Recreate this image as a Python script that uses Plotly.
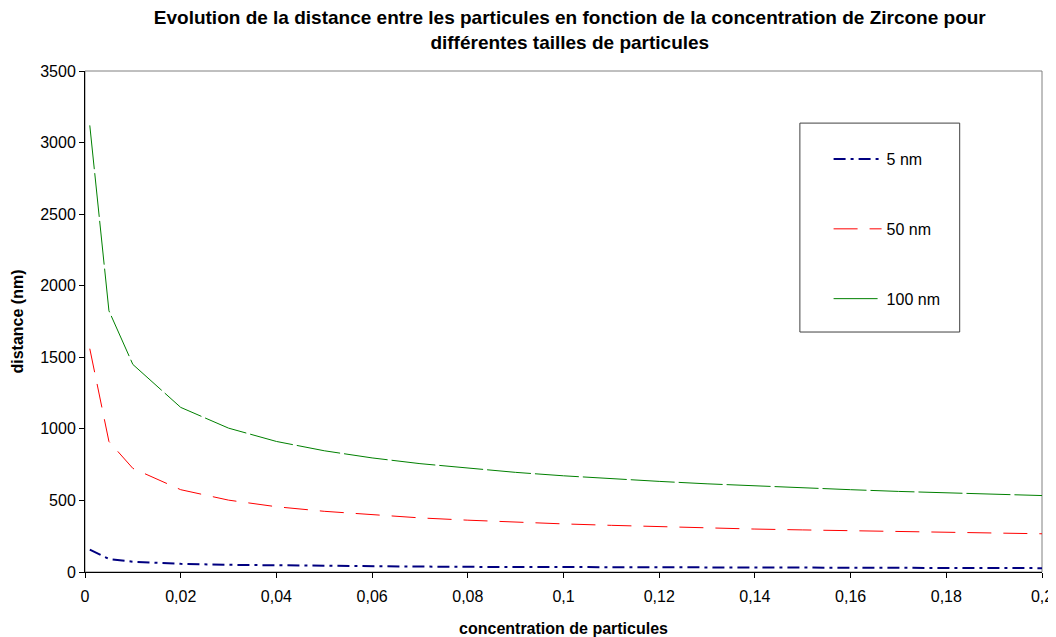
import plotly.graph_objects as go

concentration = [0.001, 0.005, 0.01, 0.02, 0.03, 0.04, 0.05, 0.06, 0.07, 0.08, 0.09, 0.10,
                 0.11, 0.12, 0.13, 0.14, 0.15, 0.16, 0.17, 0.18, 0.19, 0.20]
d_5nm = [156, 91, 72, 57, 50, 46, 42, 40, 38, 36, 35, 34, 33, 32, 31, 30, 29, 29, 28, 28, 27, 27]
d_50nm = [1560, 912, 724, 575, 502, 456, 424, 399, 378, 362, 348, 336, 326, 316, 308, 300,
          294, 288, 282, 276, 272, 267]
d_100nm = [3120, 1825, 1450, 1150, 1005, 912, 847, 797, 757, 724, 696, 672, 651, 633, 616,
           601, 587, 575, 563, 553, 543, 534]

series_names = ["5 nm", "50 nm", "100 nm"]
x_ticks = [0, 0.02, 0.04, 0.06, 0.08, 0.1, 0.12, 0.14, 0.16, 0.18, 0.2]
y_ticks = [0, 500, 1000, 1500, 2000, 2500, 3000, 3500]

FONT = "Liberation Sans, Arial, sans-serif"

fig = go.Figure()
fig.add_trace(go.Scatter(x=concentration, y=d_5nm, mode="lines", name=series_names[0],
                         legendgroup="a",
                         line=dict(color="#000080", width=2, dash="12px,5px,3px,5px")))
fig.add_trace(go.Scatter(x=concentration, y=d_50nm, mode="lines", name=series_names[1],
                         legendgroup="b",
                         line=dict(color="#FF0000", width=1, dash="24px,12px")))
fig.add_trace(go.Scatter(x=concentration, y=d_100nm, mode="lines", name=series_names[2],
                         legendgroup="c",
                         line=dict(color="#008000", width=1, dash="44px,4px")))

fig.update_layout(
    width=1056, height=637,
    margin=dict(l=77, r=22, t=63, b=73, autoexpand=False),
    paper_bgcolor="white", plot_bgcolor="white",
    separators=", ",
    font=dict(family=FONT, size=16, color="black"),
    title=dict(text="Evolution de la distance entre les particules en fonction de la concentration de Zircone pour<br>différentes tailles de particules",
               x=0.532, xanchor="center", y=0.975, yanchor="top",
               font=dict(family=FONT, size=19, color="black", weight="bold")),
    xaxis=dict(range=[0, 0.2], tickvals=x_ticks, showgrid=False, zeroline=False,
               showline=True, linecolor="black", linewidth=1,
               ticks="outside", ticklen=5, tickcolor="black", ticklabelstandoff=5,
               tickfont=dict(family=FONT, size=16),
               title=dict(text="concentration de particules", standoff=18,
                          font=dict(family=FONT, size=16, weight="bold"))),
    yaxis=dict(range=[0, 3500], tickvals=y_ticks, showgrid=False, zeroline=False,
               showline=True, linecolor="black", linewidth=1,
               ticks="outside", ticklen=5, tickcolor="black",
               tickfont=dict(family=FONT, size=16),
               title=dict(text="distance (nm)", standoff=12,
                          font=dict(family=FONT, size=16, weight="bold"))),
    legend=dict(x=0.777, xanchor="left", y=0.858, yanchor="top",
                bgcolor="rgba(0,0,0,0)", borderwidth=0,
                traceorder="grouped", tracegroupgap=46, itemwidth=48,
                font=dict(family=FONT, size=16, color="black")),
    shapes=[
        dict(type="rect", xref="paper", yref="paper", x0=0, x1=1, y0=0, y1=1,
             line=dict(color="#808080", width=1), layer="below"),
        dict(type="rect", xref="paper", yref="paper", x0=0.747, x1=0.914, y0=0.479, y1=0.896,
             line=dict(color="#404040", width=1), fillcolor="white", layer="below"),
    ],
)

fig.write_html("out.html")
